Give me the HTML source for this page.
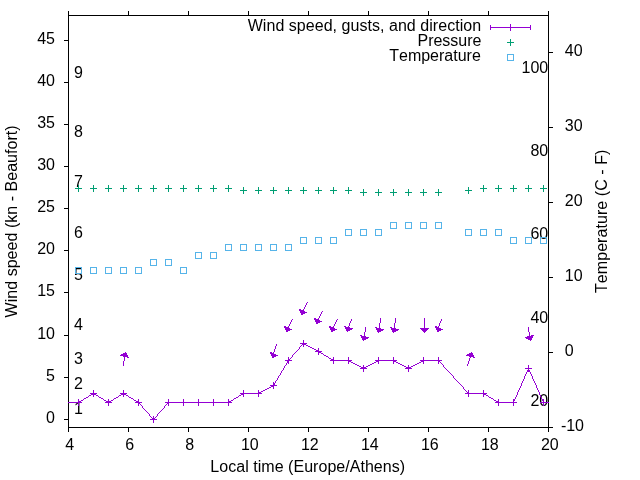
<!DOCTYPE html><html><head><meta charset="utf-8"><style>html,body{margin:0;padding:0;background:#fff;width:640px;height:480px;overflow:hidden}svg{display:block;will-change:transform}text{font-family:"Liberation Sans",sans-serif;font-size:16px;fill:#000;font-kerning:none}</style></head><body>
<svg width="640" height="480" viewBox="0 0 640 480">
<rect x="0" y="0" width="640" height="480" fill="#fff"/>
<text x="73.9" y="414">1</text>
<text x="73.9" y="389">2</text>
<text x="73.9" y="364">3</text>
<text x="73.9" y="330">4</text>
<text x="73.9" y="279.5">5</text>
<text x="73.9" y="237.5">6</text>
<text x="73.9" y="187">7</text>
<text x="73.9" y="136.5">8</text>
<text x="73.9" y="78">9</text>
<text x="548.2" y="405.7" text-anchor="end">20</text>
<text x="548.2" y="322.6" text-anchor="end">40</text>
<text x="548.2" y="239.3" text-anchor="end">60</text>
<text x="548.2" y="156" text-anchor="end">80</text>
<text x="548.2" y="72.8" text-anchor="end">100</text>
<g stroke="#000" stroke-width="1" fill="none" shape-rendering="crispEdges">
<rect x="68.5" y="15.5" width="480" height="412"/>
<path d="M68.5 427V432M68.5 11V16M128.5 427V432M128.5 11V16M188.5 427V432M188.5 11V16M248.5 427V432M248.5 11V16M308.5 427V432M308.5 11V16M368.5 427V432M368.5 11V16M428.5 427V432M428.5 11V16M488.5 427V432M488.5 11V16M548.5 427V432M548.5 11V16M64 419.5H69M64 377.5H69M64 335.5H69M64 292.5H69M64 250.5H69M64 208.5H69M64 166.5H69M64 124.5H69M64 82.5H69M64 40.5H69M548 427.5H553M548 352.5H553M548 277.5H553M548 202.5H553M548 127.5H553M548 52.5H553"/>
</g>
<text x="69.8" y="450" text-anchor="middle">4</text>
<text x="129.8" y="450" text-anchor="middle">6</text>
<text x="189.8" y="450" text-anchor="middle">8</text>
<text x="249.8" y="450" text-anchor="middle">10</text>
<text x="309.8" y="450" text-anchor="middle">12</text>
<text x="369.8" y="450" text-anchor="middle">14</text>
<text x="429.8" y="450" text-anchor="middle">16</text>
<text x="489.8" y="450" text-anchor="middle">18</text>
<text x="549.8" y="450" text-anchor="middle">20</text>
<text x="55" y="423" text-anchor="end">0</text>
<text x="55" y="381" text-anchor="end">5</text>
<text x="55" y="339" text-anchor="end">10</text>
<text x="55" y="296" text-anchor="end">15</text>
<text x="55" y="254" text-anchor="end">20</text>
<text x="55" y="212" text-anchor="end">25</text>
<text x="55" y="170" text-anchor="end">30</text>
<text x="55" y="128" text-anchor="end">35</text>
<text x="55" y="86" text-anchor="end">40</text>
<text x="55" y="44" text-anchor="end">45</text>
<text x="560.9" y="431">-10</text>
<text x="564.8" y="356">0</text>
<text x="564.8" y="281">10</text>
<text x="564.8" y="206">20</text>
<text x="564.8" y="131">30</text>
<text x="564.8" y="56">40</text>
<text x="210.36" y="472" textLength="194.7" lengthAdjust="spacing">Local time (Europe/Athens)</text>
<text transform="translate(17,317.45) rotate(-90)" textLength="192.1" lengthAdjust="spacing">Wind speed (kn - Beaufort)</text>
<text transform="translate(607,293) rotate(-90)" textLength="143.4" lengthAdjust="spacing">Temperature (C - F)</text>
<text x="247.7" y="31" textLength="233.4" lengthAdjust="spacing">Wind speed, gusts, and direction</text>
<text x="481.5" y="46" text-anchor="end">Pressure</text>
<text x="480.8" y="61" text-anchor="end">Temperature</text>
<path d="M75 188.5H82M78.5 185V192M90 188.5H97M93.5 185V192M105 188.5H112M108.5 185V192M120 188.5H127M123.5 185V192M135 188.5H142M138.5 185V192M150 188.5H157M153.5 185V192M165 188.5H172M168.5 185V192M180 188.5H187M183.5 185V192M195 188.5H202M198.5 185V192M210 188.5H217M213.5 185V192M225 188.5H232M228.5 185V192M240 190.5H247M243.5 187V194M255 190.5H262M258.5 187V194M270 190.5H277M273.5 187V194M285 190.5H292M288.5 187V194M300 190.5H307M303.5 187V194M315 190.5H322M318.5 187V194M330 190.5H337M333.5 187V194M345 190.5H352M348.5 187V194M360 192.5H367M363.5 189V196M375 192.5H382M378.5 189V196M390 192.5H397M393.5 189V196M405 192.5H412M408.5 189V196M420 192.5H427M423.5 189V196M435 192.5H442M438.5 189V196M465 190.5H472M468.5 187V194M480 188.5H487M483.5 185V192M495 188.5H502M498.5 185V192M510 188.5H517M513.5 185V192M525 188.5H532M528.5 185V192M540 188.5H547M543.5 185V192" stroke="#009e73" stroke-width="1" fill="none" shape-rendering="crispEdges"/>
<path d="M75.5 267.5h6v6h-6zM90.5 267.5h6v6h-6zM105.5 267.5h6v6h-6zM120.5 267.5h6v6h-6zM135.5 267.5h6v6h-6zM150.5 259.5h6v6h-6zM165.5 259.5h6v6h-6zM180.5 267.5h6v6h-6zM195.5 252.5h6v6h-6zM210.5 252.5h6v6h-6zM225.5 244.5h6v6h-6zM240.5 244.5h6v6h-6zM255.5 244.5h6v6h-6zM270.5 244.5h6v6h-6zM285.5 244.5h6v6h-6zM300.5 237.5h6v6h-6zM315.5 237.5h6v6h-6zM330.5 237.5h6v6h-6zM345.5 229.5h6v6h-6zM360.5 229.5h6v6h-6zM375.5 229.5h6v6h-6zM390.5 222.5h6v6h-6zM405.5 222.5h6v6h-6zM420.5 222.5h6v6h-6zM435.5 222.5h6v6h-6zM465.5 229.5h6v6h-6zM480.5 229.5h6v6h-6zM495.5 229.5h6v6h-6zM510.5 237.5h6v6h-6zM525.5 237.5h6v6h-6zM540.5 237.5h6v6h-6z" stroke="#56b4e9" stroke-width="1" fill="none" shape-rendering="crispEdges"/>
<path d="M303 343h1v1h-1zM302 344h1v1h-1zM304 344h2v1h-2zM301 345h1v1h-1zM306 345h2v1h-2zM300 346h1v1h-1zM308 346h2v1h-2zM299 347h1v1h-1zM310 347h2v1h-2zM299 348h1v1h-1zM312 348h2v1h-2zM298 349h1v1h-1zM314 349h2v1h-2zM297 350h1v1h-1zM316 350h2v1h-2zM296 351h1v1h-1zM318 351h1v1h-1zM295 352h1v1h-1zM319 352h2v1h-2zM294 353h1v1h-1zM321 353h2v1h-2zM293 354h1v1h-1zM323 354h1v1h-1zM292 355h1v1h-1zM324 355h2v1h-2zM292 356h1v1h-1zM326 356h2v1h-2zM291 357h1v1h-1zM328 357h1v1h-1zM290 358h1v1h-1zM329 358h2v1h-2zM289 359h1v1h-1zM331 359h2v1h-2zM288 360h1v1h-1zM333 360h16v1h-16zM378 360h16v1h-16zM423 360h16v1h-16zM287 361h1v1h-1zM349 361h2v1h-2zM376 361h2v1h-2zM394 361h2v1h-2zM421 361h2v1h-2zM439 361h1v1h-1zM287 362h1v1h-1zM351 362h2v1h-2zM374 362h2v1h-2zM396 362h2v1h-2zM419 362h2v1h-2zM440 362h1v1h-1zM286 363h1v1h-1zM353 363h2v1h-2zM372 363h2v1h-2zM398 363h2v1h-2zM417 363h2v1h-2zM441 363h1v1h-1zM286 364h1v1h-1zM355 364h2v1h-2zM370 364h2v1h-2zM400 364h2v1h-2zM415 364h2v1h-2zM442 364h1v1h-1zM285 365h1v1h-1zM357 365h2v1h-2zM368 365h2v1h-2zM402 365h2v1h-2zM413 365h2v1h-2zM443 365h1v1h-1zM284 366h1v1h-1zM359 366h2v1h-2zM366 366h2v1h-2zM404 366h2v1h-2zM411 366h2v1h-2zM443 366h1v1h-1zM284 367h1v1h-1zM361 367h2v1h-2zM364 367h2v1h-2zM406 367h2v1h-2zM409 367h2v1h-2zM444 367h1v1h-1zM283 368h1v1h-1zM363 368h1v1h-1zM408 368h1v1h-1zM445 368h1v1h-1zM528 368h1v1h-1zM283 369h1v1h-1zM446 369h1v1h-1zM528 369h1v1h-1zM282 370h1v1h-1zM447 370h1v1h-1zM527 370h1v1h-1zM529 370h1v1h-1zM281 371h1v1h-1zM448 371h1v1h-1zM527 371h1v1h-1zM529 371h1v1h-1zM281 372h1v1h-1zM449 372h1v1h-1zM526 372h1v1h-1zM530 372h1v1h-1zM280 373h1v1h-1zM450 373h1v1h-1zM526 373h1v1h-1zM530 373h1v1h-1zM280 374h1v1h-1zM451 374h1v1h-1zM525 374h1v1h-1zM531 374h1v1h-1zM279 375h1v1h-1zM452 375h1v1h-1zM525 375h1v1h-1zM531 375h1v1h-1zM278 376h1v1h-1zM453 376h1v1h-1zM524 376h1v1h-1zM532 376h1v1h-1zM278 377h1v1h-1zM453 377h1v1h-1zM524 377h1v1h-1zM532 377h1v1h-1zM277 378h1v1h-1zM454 378h1v1h-1zM524 378h1v1h-1zM532 378h1v1h-1zM277 379h1v1h-1zM455 379h1v1h-1zM523 379h1v1h-1zM533 379h1v1h-1zM276 380h1v1h-1zM456 380h1v1h-1zM523 380h1v1h-1zM533 380h1v1h-1zM275 381h1v1h-1zM457 381h1v1h-1zM522 381h1v1h-1zM534 381h1v1h-1zM275 382h1v1h-1zM458 382h1v1h-1zM522 382h1v1h-1zM534 382h1v1h-1zM274 383h1v1h-1zM459 383h1v1h-1zM521 383h1v1h-1zM535 383h1v1h-1zM274 384h1v1h-1zM460 384h1v1h-1zM521 384h1v1h-1zM535 384h1v1h-1zM273 385h1v1h-1zM461 385h1v1h-1zM521 385h1v1h-1zM536 385h1v1h-1zM271 386h2v1h-2zM462 386h1v1h-1zM520 386h1v1h-1zM536 386h1v1h-1zM269 387h2v1h-2zM463 387h1v1h-1zM520 387h1v1h-1zM536 387h1v1h-1zM267 388h2v1h-2zM463 388h1v1h-1zM519 388h1v1h-1zM537 388h1v1h-1zM265 389h2v1h-2zM464 389h1v1h-1zM519 389h1v1h-1zM537 389h1v1h-1zM263 390h2v1h-2zM465 390h1v1h-1zM518 390h1v1h-1zM538 390h1v1h-1zM261 391h2v1h-2zM466 391h1v1h-1zM518 391h1v1h-1zM538 391h1v1h-1zM259 392h2v1h-2zM467 392h1v1h-1zM517 392h1v1h-1zM539 392h1v1h-1zM93 393h1v1h-1zM123 393h1v1h-1zM243 393h16v1h-16zM468 393h16v1h-16zM517 393h1v1h-1zM539 393h1v1h-1zM91 394h2v1h-2zM94 394h2v1h-2zM121 394h2v1h-2zM124 394h2v1h-2zM241 394h2v1h-2zM484 394h2v1h-2zM517 394h1v1h-1zM539 394h1v1h-1zM89 395h2v1h-2zM96 395h2v1h-2zM119 395h2v1h-2zM126 395h2v1h-2zM239 395h2v1h-2zM486 395h2v1h-2zM516 395h1v1h-1zM540 395h1v1h-1zM88 396h1v1h-1zM98 396h1v1h-1zM118 396h1v1h-1zM128 396h1v1h-1zM238 396h1v1h-1zM488 396h1v1h-1zM516 396h1v1h-1zM540 396h1v1h-1zM86 397h2v1h-2zM99 397h2v1h-2zM116 397h2v1h-2zM129 397h2v1h-2zM236 397h2v1h-2zM489 397h2v1h-2zM515 397h1v1h-1zM541 397h1v1h-1zM84 398h2v1h-2zM101 398h2v1h-2zM114 398h2v1h-2zM131 398h2v1h-2zM234 398h2v1h-2zM491 398h2v1h-2zM515 398h1v1h-1zM541 398h1v1h-1zM83 399h1v1h-1zM103 399h1v1h-1zM113 399h1v1h-1zM133 399h1v1h-1zM233 399h1v1h-1zM493 399h1v1h-1zM514 399h1v1h-1zM542 399h1v1h-1zM81 400h2v1h-2zM104 400h2v1h-2zM111 400h2v1h-2zM134 400h2v1h-2zM231 400h2v1h-2zM494 400h2v1h-2zM514 400h1v1h-1zM542 400h1v1h-1zM79 401h2v1h-2zM106 401h2v1h-2zM109 401h2v1h-2zM136 401h2v1h-2zM229 401h2v1h-2zM496 401h2v1h-2zM513 401h1v1h-1zM543 401h1v1h-1zM68 402h11v1h-11zM108 402h1v1h-1zM138 402h1v1h-1zM168 402h61v1h-61zM498 402h16v1h-16zM543 402h6v1h-6zM139 403h1v1h-1zM167 403h1v1h-1zM140 404h1v1h-1zM166 404h1v1h-1zM141 405h1v1h-1zM165 405h1v1h-1zM142 406h1v1h-1zM164 406h1v1h-1zM142 407h1v1h-1zM164 407h1v1h-1zM143 408h1v1h-1zM163 408h1v1h-1zM144 409h1v1h-1zM162 409h1v1h-1zM145 410h1v1h-1zM161 410h1v1h-1zM146 411h1v1h-1zM160 411h1v1h-1zM147 412h1v1h-1zM159 412h1v1h-1zM148 413h1v1h-1zM158 413h1v1h-1zM149 414h1v1h-1zM157 414h1v1h-1zM149 415h1v1h-1zM157 415h1v1h-1zM150 416h1v1h-1zM156 416h1v1h-1zM151 417h1v1h-1zM155 417h1v1h-1zM152 418h1v1h-1zM154 418h1v1h-1zM153 419h1v1h-1z" fill="#9400d3"/>
<path d="M75 402.5H82M78.5 399V406M90 393.5H97M93.5 390V397M105 402.5H112M108.5 399V406M120 393.5H127M123.5 390V397M135 402.5H142M138.5 399V406M150 419.5H157M153.5 416V423M165 402.5H172M168.5 399V406M180 402.5H187M183.5 399V406M195 402.5H202M198.5 399V406M210 402.5H217M213.5 399V406M225 402.5H232M228.5 399V406M240 393.5H247M243.5 390V397M255 393.5H262M258.5 390V397M270 385.5H277M273.5 382V389M285 360.5H292M288.5 357V364M300 343.5H307M303.5 340V347M315 351.5H322M318.5 348V355M330 360.5H337M333.5 357V364M345 360.5H352M348.5 357V364M360 368.5H367M363.5 365V372M375 360.5H382M378.5 357V364M390 360.5H397M393.5 357V364M405 368.5H412M408.5 365V372M420 360.5H427M423.5 357V364M435 360.5H442M438.5 357V364M465 393.5H472M468.5 390V397M480 393.5H487M483.5 390V397M495 402.5H502M498.5 399V406M510 402.5H517M513.5 399V406M525 368.5H532M528.5 365V372M540 402.5H547M543.5 399V406" stroke="#9400d3" stroke-width="1" fill="none" shape-rendering="crispEdges"/>
<path d="M307 302h1v1h-1zM306 303h1v1h-1zM306 304h1v1h-1zM305 305h1v1h-1zM305 306h1v1h-1zM304 307h1v1h-1zM304 308h1v1h-1zM299 309h2v1h-2zM303 309h1v1h-1zM299 310h5v1h-5zM300 311h5v1h-5zM322 311h1v1h-1zM300 312h7v1h-7zM321 312h1v1h-1zM301 313h4v1h-4zM321 313h1v1h-1zM301 314h2v1h-2zM320 314h1v1h-1zM320 315h1v1h-1zM319 316h1v1h-1zM319 317h1v1h-1zM314 318h2v1h-2zM318 318h1v1h-1zM380 318h1v1h-1zM395 318h1v1h-1zM424 318h1v1h-1zM292 319h1v1h-1zM314 319h5v1h-5zM337 319h1v1h-1zM351 319h1v1h-1zM380 319h1v1h-1zM395 319h1v1h-1zM424 319h1v1h-1zM441 319h1v1h-1zM291 320h1v1h-1zM315 320h5v1h-5zM336 320h1v1h-1zM351 320h1v1h-1zM380 320h1v1h-1zM395 320h1v1h-1zM424 320h1v1h-1zM441 320h1v1h-1zM291 321h1v1h-1zM315 321h7v1h-7zM336 321h1v1h-1zM350 321h1v1h-1zM380 321h1v1h-1zM395 321h1v1h-1zM424 321h1v1h-1zM440 321h1v1h-1zM290 322h1v1h-1zM316 322h4v1h-4zM335 322h1v1h-1zM350 322h1v1h-1zM380 322h1v1h-1zM395 322h1v1h-1zM424 322h1v1h-1zM440 322h1v1h-1zM290 323h1v1h-1zM316 323h2v1h-2zM335 323h1v1h-1zM349 323h1v1h-1zM379 323h1v1h-1zM394 323h1v1h-1zM424 323h1v1h-1zM439 323h1v1h-1zM289 324h1v1h-1zM334 324h1v1h-1zM349 324h1v1h-1zM379 324h1v1h-1zM394 324h1v1h-1zM424 324h1v1h-1zM439 324h1v1h-1zM289 325h1v1h-1zM334 325h1v1h-1zM349 325h1v1h-1zM379 325h1v1h-1zM394 325h1v1h-1zM424 325h1v1h-1zM439 325h1v1h-1zM284 326h2v1h-2zM288 326h1v1h-1zM329 326h2v1h-2zM333 326h1v1h-1zM344 326h2v1h-2zM348 326h1v1h-1zM379 326h1v1h-1zM394 326h1v1h-1zM424 326h1v1h-1zM435 326h2v1h-2zM438 326h1v1h-1zM284 327h5v1h-5zM329 327h5v1h-5zM345 327h5v1h-5zM365 327h1v1h-1zM375 327h2v1h-2zM379 327h1v1h-1zM390 327h2v1h-2zM394 327h1v1h-1zM424 327h1v1h-1zM435 327h4v1h-4zM528 327h1v1h-1zM285 328h5v1h-5zM330 328h5v1h-5zM345 328h8v1h-8zM365 328h1v1h-1zM376 328h5v1h-5zM391 328h5v1h-5zM420 328h9v1h-9zM436 328h5v1h-5zM528 328h1v1h-1zM285 329h7v1h-7zM330 329h7v1h-7zM346 329h6v1h-6zM365 329h1v1h-1zM376 329h8v1h-8zM391 329h8v1h-8zM421 329h7v1h-7zM436 329h7v1h-7zM528 329h1v1h-1zM286 330h4v1h-4zM331 330h4v1h-4zM346 330h4v1h-4zM365 330h1v1h-1zM377 330h6v1h-6zM392 330h6v1h-6zM422 330h5v1h-5zM437 330h4v1h-4zM528 330h1v1h-1zM286 331h2v1h-2zM331 331h2v1h-2zM347 331h1v1h-1zM365 331h1v1h-1zM377 331h4v1h-4zM392 331h4v1h-4zM423 331h3v1h-3zM437 331h2v1h-2zM528 331h1v1h-1zM364 332h1v1h-1zM378 332h1v1h-1zM393 332h1v1h-1zM424 332h1v1h-1zM529 332h1v1h-1zM364 333h1v1h-1zM529 333h1v1h-1zM364 334h1v1h-1zM529 334h1v1h-1zM360 335h2v1h-2zM364 335h1v1h-1zM529 335h1v1h-1zM531 335h3v1h-3zM361 336h5v1h-5zM527 336h6v1h-6zM361 337h8v1h-8zM525 337h8v1h-8zM362 338h6v1h-6zM526 338h6v1h-6zM362 339h4v1h-4zM528 339h4v1h-4zM363 340h1v1h-1zM530 340h1v1h-1zM276 344h1v1h-1zM276 345h1v1h-1zM275 346h1v1h-1zM275 347h1v1h-1zM275 348h1v1h-1zM274 349h1v1h-1zM274 350h1v1h-1zM274 351h1v1h-1zM125 352h1v1h-1zM270 352h2v1h-2zM273 352h1v1h-1zM471 352h1v1h-1zM123 353h4v1h-4zM270 353h4v1h-4zM469 353h4v1h-4zM121 354h6v1h-6zM271 354h5v1h-5zM467 354h6v1h-6zM120 355h8v1h-8zM271 355h7v1h-7zM466 355h8v1h-8zM123 356h5v1h-5zM272 356h4v1h-4zM469 356h5v1h-5zM124 357h1v1h-1zM127 357h2v1h-2zM272 357h2v1h-2zM470 357h1v1h-1zM473 357h2v1h-2zM124 358h1v1h-1zM469 358h1v1h-1zM124 359h1v1h-1zM469 359h1v1h-1zM124 360h1v1h-1zM469 360h1v1h-1zM123 361h1v1h-1zM468 361h1v1h-1zM123 362h1v1h-1zM468 362h1v1h-1zM123 363h1v1h-1zM468 363h1v1h-1zM123 364h1v1h-1zM467 364h1v1h-1zM123 365h1v1h-1zM467 365h1v1h-1z" fill="#9400d3"/>
<path d="M490 27.5H531M490.5 25V30M530.5 25V30M510.5 24V31" stroke="#9400d3" stroke-width="1" fill="none" shape-rendering="crispEdges"/>
<path d="M507 42.5H514M510.5 39V46" stroke="#009e73" stroke-width="1" fill="none" shape-rendering="crispEdges"/>
<rect x="507.5" y="54.5" width="6" height="6" stroke="#56b4e9" stroke-width="1" fill="none" shape-rendering="crispEdges"/>
</svg></body></html>
